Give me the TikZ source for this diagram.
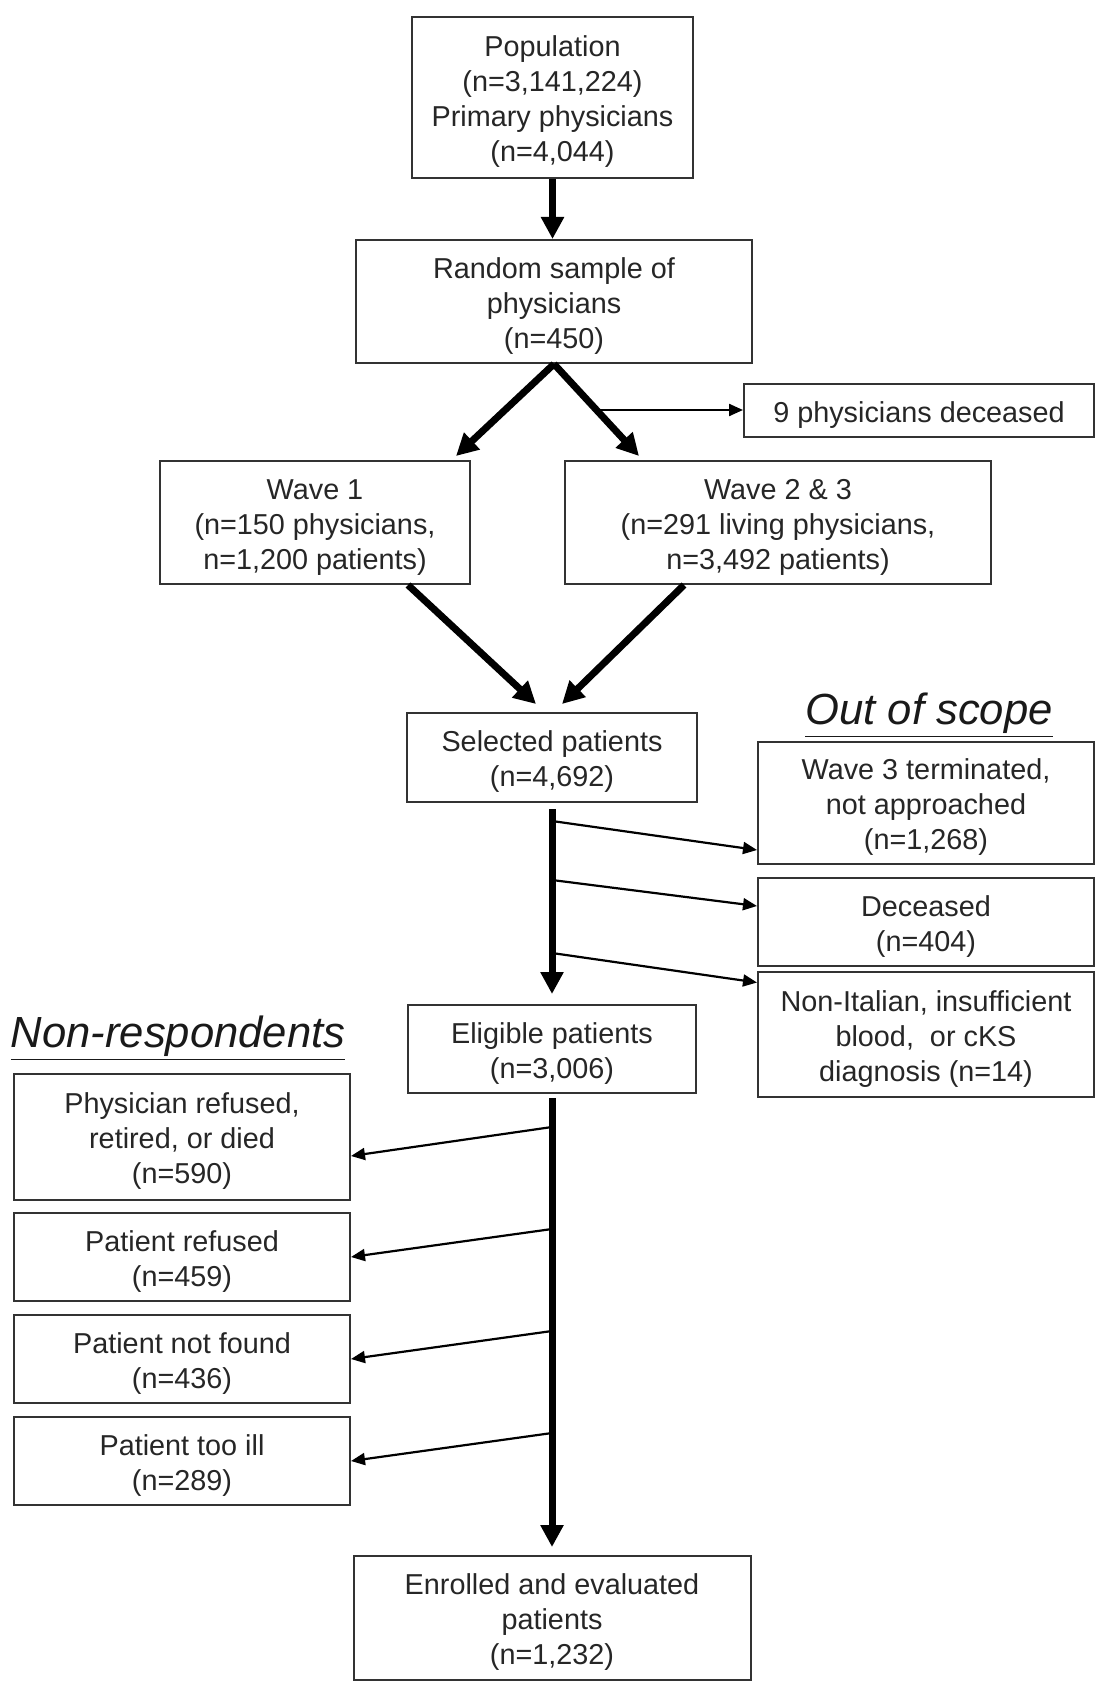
\documentclass[tikz,border=0pt]{standalone}
\usepackage{fontspec}
\setmainfont{Liberation Sans}
\usetikzlibrary{arrows.meta,calc}
\newcommand{\tp}{\rule{0pt}{14.5pt}}
\begin{document}
\begin{tikzpicture}[x=0.5pt,y=-0.5pt,
  box/.style={draw=black!80, line width=1pt, align=center, inner sep=0pt,
    font=\fontsize{14.4}{17.5}\selectfont, text=black!85},
  bigarrow/.style={line width=3.5pt, -{Triangle[length=11pt,width=11pt]}},
  smallarrow/.style={line width=1.1pt, -{Triangle[length=7pt,width=6pt]}},
  heading/.style={font=\fontsize{21.8}{26}\selectfont\itshape, inner sep=0pt, text=black!90}]
\useasboundingbox[fill=white] (0,0) rectangle (1108,1700);

% nodes
\node[box, minimum width=140.5pt, minimum height=80.5pt] (pop) at (552.5,97.5)
  {\tp Population\\(n=3,141,224)\\Primary physicians\\(n=4,044)};
\node[box, minimum width=198pt, minimum height=61.5pt] (rand) at (554,301.5)
  {\tp Random sample of\\physicians\\(n=450)};
\node[box, minimum width=175pt, minimum height=26.5pt] (dec9) at (919,410.5)
  {\tp 9 physicians deceased};
\node[box, minimum width=155pt, minimum height=61.5pt] (w1) at (315,522.5)
  {\tp Wave 1\\(n=150 physicians,\\n=1,200 patients)};
\node[box, minimum width=213pt, minimum height=61.5pt] (w2) at (778,522.5)
  {\tp Wave 2 \& 3\\(n=291 living physicians,\\n=3,492 patients)};
\node[box, minimum width=145pt, minimum height=44.5pt] (sel) at (552,757.5)
  {\tp Selected patients\\(n=4,692)};
\node[heading] (oos) at (929,715) {\underline{Out of scope}};
\node[box, minimum width=168pt, minimum height=61pt] (w3t) at (926,803)
  {\tp Wave 3 terminated,\\not approached\\(n=1,268)};
\node[box, minimum width=168pt, minimum height=44pt] (dec) at (926,922)
  {\tp Deceased\\(n=404)};
\node[box, minimum width=168pt, minimum height=62.5pt] (nonit) at (926,1034.5)
  {\tp Non-Italian, insufficient\\blood,~ or cKS\\diagnosis (n=14)};
\node[box, minimum width=144pt, minimum height=44pt] (elig) at (552,1049)
  {\tp Eligible patients\\(n=3,006)};
\node[heading] (nonr) at (178,1038) {\underline{Non-respondents}};
\node[box, minimum width=168pt, minimum height=63pt] (phys) at (182,1137)
  {\tp Physician refused,\\retired, or died\\(n=590)};
\node[box, minimum width=168pt, minimum height=44pt] (pref) at (182,1257)
  {\tp Patient refused\\(n=459)};
\node[box, minimum width=168pt, minimum height=44pt] (pnf) at (182,1359)
  {\tp Patient not found\\(n=436)};
\node[box, minimum width=168pt, minimum height=44pt] (pill) at (182,1461)
  {\tp Patient too ill\\(n=289)};
\node[box, minimum width=198.5pt, minimum height=62pt] (enr) at (552,1618)
  {\tp Enrolled and evaluated\\patients\\(n=1,232)};

% connectors
\draw[bigarrow] (pop.south) -- (pop.south |- rand.north);
\coordinate (w1tip) at ([xshift=-7.5pt,yshift=2pt]w1.north east);
\coordinate (w2tip) at ([xshift=37.5pt,yshift=2pt]w2.north west);
\draw[bigarrow] (rand.south) -- (w1tip);
\draw[bigarrow] (rand.south) -- (w2tip);
\coordinate (mid) at ($(rand.south)!0.5!(w2tip)$);
\draw[smallarrow] (mid) -- (mid -| dec9.west);

\draw[bigarrow] ([xshift=-31.5pt]w1.south east) -- ([xshift=-8pt,yshift=4pt]sel.north);
\draw[bigarrow] ([xshift=60pt]w2.south west) -- ([xshift=5pt,yshift=4pt]sel.north);

\draw[bigarrow, shorten >=5pt] ([yshift=-3pt]sel.south) -- (elig.north);
\coordinate (o1) at (552,821);
\coordinate (o2) at (552,880);
\coordinate (o3) at (552,953);
\draw[smallarrow] (o1) -- ([yshift=-23.5pt]w3t.west);
\draw[smallarrow] (o2) -- ([yshift=8pt]dec.west);
\draw[smallarrow] (o3) -- ([yshift=26pt]nonit.west);

\draw[bigarrow, shorten >=4pt] ([yshift=-2pt]elig.south) -- (enr.north);
\coordinate (r1) at (552,1127);
\coordinate (r2) at (552,1229);
\coordinate (r3) at (552,1331);
\coordinate (r4) at (552,1433);
\draw[smallarrow] (r1) -- ([yshift=-9.5pt]phys.east);
\draw[smallarrow] (r2) -- (pref.east);
\draw[smallarrow] (r3) -- (pnf.east);
\draw[smallarrow] (r4) -- (pill.east);
\end{tikzpicture}
\end{document}
